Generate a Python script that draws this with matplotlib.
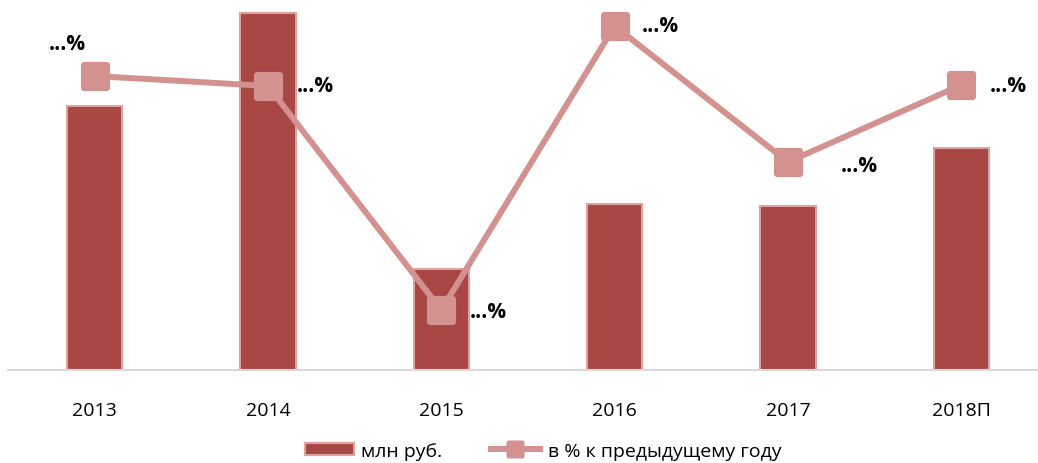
import matplotlib.pyplot as plt
import numpy as np
from matplotlib.path import Path

years = ['2013', '2014', '2015', '2016', '2017', '2018П']
mln_rub = [264, 357, 101, 166, 164, 222]
pct_prev = [294, 284, 60, 344, 208, 285]
pct_labels = ['...%', '...%', '...%', '...%', '...%', '...%']

bar_color = '#A84744'
bar_edge = '#DDA3A1'
line_color = '#D39290'

plt.rcParams['font.family'] = ['Open Sans', 'DejaVu Sans']


def rounded_square(r=0.2, n=8):
    # square marker with slightly rounded corners
    pts = []
    for cx, cy, a0 in [(1 - r, 1 - r, 0), (-1 + r, 1 - r, 90),
                       (-1 + r, -1 + r, 180), (1 - r, -1 + r, 270)]:
        for t in np.linspace(a0, a0 + 90, n):
            pts.append((cx + r * np.cos(np.radians(t)), cy + r * np.sin(np.radians(t))))
    pts.append(pts[0])
    codes = [Path.MOVETO] + [Path.LINETO] * (len(pts) - 2) + [Path.CLOSEPOLY]
    return Path(pts, codes)


marker = rounded_square()

fig = plt.figure(figsize=(10.38, 4.64), dpi=100)
ax = fig.add_axes([8 / 1038, 93 / 464, 1040 / 1038, 361 / 464])
x = np.arange(len(years))

bars = ax.bar(x, mln_rub, width=0.32, color=bar_color, edgecolor=bar_edge,
              linewidth=1.5, label='млн руб.', zorder=2)
ax.set_ylim(0, 361)
ax.set_xlim(-0.5, 5.5)

ax2 = ax.twinx()
ax2.set_ylim(0, 361)
line, = ax2.plot(x, pct_prev, color=line_color, linewidth=4.3, marker=marker,
                 markersize=20, markerfacecolor=line_color, markeredgecolor=line_color,
                 label='в % к предыдущему году', zorder=3)

offsets = [(-27, 32, 'center'), (29, 0, 'left'), (28, -2, 'left'),
           (27, 0, 'left'), (53, -3, 'left'), (28, 0, 'left')]
for i, (dx, dy, ha) in enumerate(offsets):
    ax2.annotate(pct_labels[i], (x[i], pct_prev[i]), xytext=(dx * 0.72, dy * 0.72),
                 textcoords='offset points', ha=ha, va='center',
                 fontsize=15, fontweight='bold', color='black')

for a in (ax, ax2):
    for s in ['top', 'right', 'left']:
        a.spines[s].set_visible(False)
    a.set_yticks([])
ax2.spines['bottom'].set_visible(False)
ax.spines['bottom'].set_color('#D9D9D9')
ax.spines['bottom'].set_linewidth(1.5)

ax.set_xticks(x)
ax.set_xticklabels(years, fontsize=14)
ax.tick_params(axis='x', length=0, pad=22)

leg = fig.legend(handles=[bars, line], loc='center', bbox_to_anchor=(543 / 1038, 12 / 464),
                 ncol=2, frameon=False, fontsize=14, handlelength=2.5, handleheight=0.6,
                 columnspacing=2.5, handletextpad=0.4)
leg.legend_handles[1].set_markersize(12)

fig.savefig('out.png', dpi=100)
